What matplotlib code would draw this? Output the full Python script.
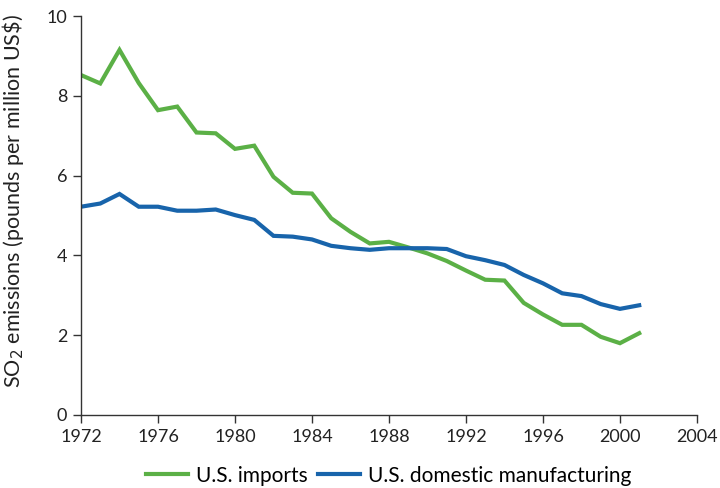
import matplotlib.pyplot as plt

plt.rcParams["font.family"] = ["Lato", "DejaVu Sans"]

years = list(range(1972, 2002))
imports = [8.52, 8.31, 9.15, 8.32, 7.64, 7.73, 7.08, 7.06, 6.67, 6.75,
           5.97, 5.57, 5.55, 4.93, 4.59, 4.30, 4.34, 4.20, 4.05, 3.86,
           3.62, 3.39, 3.37, 2.81, 2.52, 2.26, 2.26, 1.96, 1.80, 2.05]
domestic = [5.22, 5.30, 5.54, 5.22, 5.22, 5.12, 5.12, 5.15, 5.01, 4.89,
            4.49, 4.47, 4.40, 4.24, 4.18, 4.14, 4.18, 4.18, 4.18, 4.16,
            3.98, 3.88, 3.76, 3.51, 3.30, 3.05, 2.98, 2.78, 2.66, 2.75]
x_ticks = list(range(1972, 2005, 4))
y_ticks = [0, 2, 4, 6, 8, 10]

green = "#5bb046"
blue = "#1864ab"
axis_col = "#333333"

fig = plt.figure(figsize=(7.2, 4.88), dpi=100)
ax = fig.add_axes([0.1125, 0.1496, 0.8555, 0.8176])

ax.plot(years, imports, color=green, lw=3.0, label="U.S. imports",
        solid_joinstyle="miter")
ax.plot(years, domestic, color=blue, lw=3.0, label="U.S. domestic manufacturing",
        solid_joinstyle="miter")

ax.set_xlim(1972, 2004)
ax.set_ylim(0, 10)
ax.set_xticks(x_ticks)
ax.set_yticks(y_ticks)

for side in ("top", "right"):
    ax.spines[side].set_visible(False)
for side in ("left", "bottom"):
    ax.spines[side].set_color(axis_col)
    ax.spines[side].set_linewidth(1.0)
ax.tick_params(colors=axis_col, labelcolor="#222222", labelsize=13,
               length=6, width=1.0, direction="out", pad=4)

ax.set_ylabel("SO$_2$ emissions (pounds per million US\\$)", fontsize=15.5,
              color="#222222")
ax.yaxis.set_label_coords(-0.09, 0.535)

ax.legend(loc="upper center", bbox_to_anchor=(0.5, -0.08), ncol=2,
          frameon=False, fontsize=15, handlelength=2.0, handletextpad=0.4,
          columnspacing=0.5)

fig.savefig("out.png", dpi=100, facecolor="white")
